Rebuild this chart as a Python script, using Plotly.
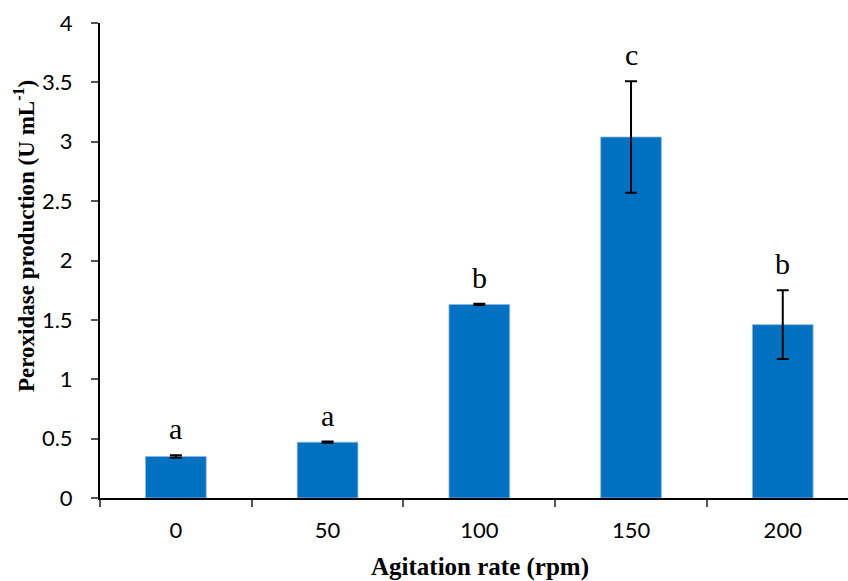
import plotly.graph_objects as go

categories = ["0", "50", "100", "150", "200"]
values = [0.35, 0.47, 1.63, 3.04, 1.46]
errors = [0.01, 0.005, 0.005, 0.47, 0.29]
letters = ["a", "a", "b", "c", "b"]
y_ticks = [0, 0.5, 1, 1.5, 2, 2.5, 3, 3.5, 4]
y_ticktext = ["0", "0.5", "1", "1.5", "2", "2.5", "3", "3.5", "4"]
x_title = "Agitation rate (rpm)"
y_title = "Peroxidase production (U mL<sup>-1</sup>)"

W, H = 848, 581
L, R, T, B = 100, 0, 23, 83
pw, ph = W - L - R, H - T - B

def px_to_paper(xp, yp):
    return (xp - L) / pw, (H - B - yp) / ph

fig = go.Figure()
fig.add_trace(go.Bar(
    x=categories, y=values, width=0.4,
    marker=dict(color="#0070C0", line=dict(color="#8DB8E2", width=0.8)),
    error_y=dict(type="data", array=errors, visible=True, color="black",
                 thickness=2, width=6),
))

for i, (v, e, t) in enumerate(zip(values, errors, letters)):
    fig.add_annotation(x=i, y=v + e, xref="x", yref="y", text=t, showarrow=False,
                       yanchor="bottom", yshift=8,
                       font=dict(family="Liberation Serif", size=30, color="black"))

yx, yy = px_to_paper(24, 236)
fig.add_annotation(x=yx, xref="paper", y=yy, yref="paper", text=y_title, showarrow=False,
                   textangle=-90, xanchor="center", yanchor="middle",
                   font=dict(family="Liberation Serif", size=23, color="black", weight="bold"))
xx, xy = px_to_paper(480, 567)
fig.add_annotation(x=xx, xref="paper", y=xy, yref="paper", text=x_title, showarrow=False,
                   xanchor="center", yanchor="middle",
                   font=dict(family="Liberation Serif", size=25, color="black", weight="bold"))

fig.update_layout(
    width=W, height=H,
    margin=dict(l=L, r=R, t=T, b=B),
    plot_bgcolor="white", paper_bgcolor="white",
    showlegend=False,
    font=dict(family="Lato", size=22, color="black"),
)
fig.update_xaxes(
    type="category", categoryorder="array", categoryarray=categories,
    range=[-0.5, 4.43],
    showline=True, linecolor="black", linewidth=2,
    ticks="outside", tickson="boundaries", ticklen=7, tickcolor="#555555", tickwidth=1.5,
    ticklabelstandoff=12,
    showgrid=False, zeroline=False,
    tickfont=dict(family="Lato", size=22, color="black"),
)
fig.update_yaxes(
    range=[0, 4], tickvals=y_ticks, ticktext=y_ticktext,
    showline=True, linecolor="black", linewidth=2,
    ticks="outside", ticklen=7, tickcolor="#555555", tickwidth=1.5,
    ticklabelstandoff=14,
    showgrid=False, zeroline=False,
    tickfont=dict(family="Lato", size=22, color="black"),
)

fig.write_html("out.html")
